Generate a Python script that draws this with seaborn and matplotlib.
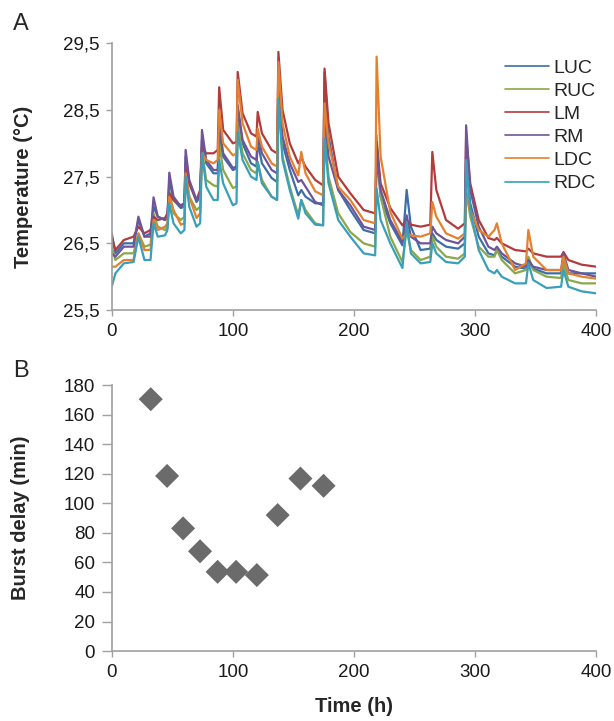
import matplotlib
matplotlib.use("Agg")
import matplotlib.pyplot as plt
import seaborn as sns
import pandas as pd

# --- panel A: temperature traces (key points) ---
hours = [0, 3, 10, 18, 22, 27, 32, 34.5, 38, 44,
         46, 47.5, 51, 57, 60, 61, 64, 70, 73, 74.5,
         78, 84, 87.5, 88.7, 92, 100, 103, 104, 108, 115,
         119.5, 120.5, 124, 132, 136.5, 137.6, 141, 147, 154, 156.5,
         160, 168, 174.5, 175.7, 179, 187, 197, 208, 217.5, 218.7,
         222, 230, 240, 243.5, 247, 255, 263, 264.7, 268, 276,
         286, 291.5, 292.6, 296, 303, 311, 316, 318, 322, 333,
         342, 344, 348, 359, 371, 373, 377, 388, 400]

luc = [26.65, 26.35, 26.5, 26.5, 26.85, 26.6, 26.65, 27.05, 26.9, 26.85,
       26.9, 27.43, 27.15, 27.03, 27.05, 27.8, 27.4, 27.12, 27.2, 28.05,
       27.7, 27.55, 27.55, 28.1, 27.8, 27.6, 27.62, 28.5, 28.0, 27.7,
       27.65, 28.02, 27.7, 27.48, 27.42, 28.87, 28.0, 27.6, 27.22, 27.3,
       27.2, 27.1, 27.1, 29.07, 28.1, 27.3, 27.0, 26.7, 26.65, 27.85,
       27.2, 26.8, 26.47, 27.3, 26.75, 26.4, 26.42, 26.65, 26.55, 26.45,
       26.42, 26.5, 27.7, 27.1, 26.6, 26.35, 26.32, 26.4, 26.3, 26.15,
       26.12, 26.22, 26.12, 26.05, 26.05, 26.25, 26.05, 26.05, 26.05]

ruc = [26.45, 26.25, 26.35, 26.35, 26.65, 26.45, 26.48, 26.95, 26.75, 26.7,
       26.75, 27.3, 26.95, 26.85, 26.9, 27.6, 27.2, 27.0, 27.05, 27.9,
       27.45, 27.37, 27.35, 28.0, 27.6, 27.33, 27.35, 28.32, 27.85, 27.6,
       27.55, 27.72, 27.45, 27.2, 27.15, 28.75, 27.8, 27.35, 26.92, 27.15,
       27.0, 26.8, 26.77, 28.2, 27.5, 26.95, 26.67, 26.5, 26.45, 28.12,
       27.2, 26.6, 26.22, 26.7, 26.4, 26.25, 26.3, 26.6, 26.45, 26.3,
       26.27, 26.35, 27.32, 26.9, 26.45, 26.3, 26.3, 26.4, 26.25, 26.05,
       26.1, 26.3, 26.1, 26.0, 25.98, 26.2, 25.95, 25.9, 25.9]

lm = [26.6, 26.4, 26.55, 26.6, 26.75, 26.65, 26.7, 26.9, 26.85, 26.88,
      26.95, 27.25, 27.15, 27.07, 27.1, 27.7, 27.4, 27.15, 27.3, 27.95,
      27.85, 27.85, 27.9, 28.84, 28.2, 28.0, 28.02, 29.07, 28.45, 28.15,
      28.1, 28.47, 28.15, 27.9, 27.85, 29.37, 28.5, 28.0, 27.7, 27.78,
      27.65, 27.45, 27.37, 29.12, 28.3, 27.5, 27.25, 27.0, 26.95, 28.02,
      27.4, 27.03, 26.77, 26.85, 26.78, 26.75, 26.78, 27.87, 27.3, 26.85,
      26.72, 26.8, 28.12, 27.4, 26.85, 26.58, 26.55, 26.58, 26.5, 26.4,
      26.38, 26.42, 26.35, 26.3, 26.3, 26.37, 26.25, 26.18, 26.15]

rm = [26.35, 26.3, 26.45, 26.45, 26.9, 26.6, 26.6, 27.19, 26.9, 26.85,
      26.9, 27.56, 27.2, 27.05, 27.1, 27.9, 27.45, 27.15, 27.25, 28.2,
      27.75, 27.6, 27.6, 28.3, 27.85, 27.63, 27.65, 28.57, 28.05, 27.8,
      27.75, 28.15, 27.85, 27.6, 27.55, 29.0, 28.1, 27.7, 27.42, 27.45,
      27.35, 27.12, 27.07, 28.45, 27.8, 27.3, 27.07, 26.75, 26.7, 27.97,
      27.3, 26.85, 26.52, 26.92, 26.6, 26.5, 26.5, 26.75, 26.65, 26.55,
      26.5, 26.6, 28.27, 27.3, 26.75, 26.45, 26.4, 26.45, 26.35, 26.2,
      26.15, 26.25, 26.15, 26.1, 26.1, 26.35, 26.1, 26.05, 26.0]

ldc = [26.15, 26.15, 26.25, 26.25, 26.65, 26.4, 26.4, 26.85, 26.7, 26.75,
       26.8, 27.2, 27.0, 26.78, 26.8, 27.55, 27.2, 26.88, 26.95, 27.85,
       27.75, 27.7, 27.75, 28.5, 28.0, 27.82, 27.85, 28.95, 28.3, 27.95,
       27.9, 28.22, 27.95, 27.7, 27.65, 29.22, 28.3, 27.8, 27.52, 27.87,
       27.55, 27.28, 27.22, 28.6, 28.0, 27.35, 27.15, 26.85, 26.8, 29.3,
       27.8, 26.97, 26.57, 26.65, 26.62, 26.6, 26.65, 27.12, 26.9, 26.65,
       26.57, 26.65, 27.2, 27.0, 26.7, 26.6, 26.7, 26.8, 26.5, 26.1,
       26.2, 26.7, 26.3, 26.1, 26.1, 26.3, 26.05, 26.0, 25.97]

rdc = [25.85, 26.05, 26.2, 26.22, 26.6, 26.25, 26.25, 26.8, 26.6, 26.62,
       26.7, 27.1, 26.8, 26.65, 26.7, 27.5, 27.05, 26.75, 26.8, 27.85,
       27.35, 27.15, 27.15, 27.75, 27.4, 27.07, 27.1, 28.17, 27.75, 27.5,
       27.45, 27.72, 27.4, 27.2, 27.15, 28.67, 27.75, 27.3, 26.87, 27.15,
       26.95, 26.78, 26.77, 28.07, 27.4, 26.85, 26.6, 26.35, 26.32, 27.32,
       26.85, 26.5, 26.13, 26.82, 26.35, 26.2, 26.22, 26.5, 26.35, 26.22,
       26.2, 26.3, 27.75, 27.0, 26.4, 26.1, 26.05, 26.1, 26.0, 25.9,
       25.9, 26.2, 25.95, 25.83, 25.85, 26.1, 25.85, 25.78, 25.75]

sensors = ["LUC", "RUC", "LM", "RM", "LDC", "RDC"]
colours = ["#3b6fa8", "#8aa84a", "#b23b3b", "#6f5597", "#e3812f", "#3a9fb8"]

# --- panel B: burst delay ---
burst_time = [32.2, 45.7, 58.9, 72.9, 87.4, 102.7, 119.8, 137.0, 155.8, 174.9]
burst_delay = [170.4, 118.5, 83, 67.5, 53.6, 53.6, 51.4, 92, 116.7, 111.8]

temps = pd.DataFrame({"Time": hours, "LUC": luc, "RUC": ruc, "LM": lm,
                      "RM": rm, "LDC": ldc, "RDC": rdc})
temps = temps.melt(id_vars="Time", var_name="Sensor", value_name="Temp")
bursts = pd.DataFrame({"Time": burst_time, "Delay": burst_delay})

sns.set_style("white")
plt.rcParams["font.family"] = ["Liberation Sans", "DejaVu Sans"]

fig = plt.figure(figsize=(6.14, 7.21), dpi=100)
ax_a = fig.add_axes([0.182, 0.570, 0.789, 0.370])
ax_b = fig.add_axes([0.182, 0.097, 0.789, 0.369])

sns.lineplot(data=temps, x="Time", y="Temp", hue="Sensor", hue_order=sensors,
             palette=dict(zip(sensors, colours)), linewidth=1.6, ax=ax_a)
ax_a.set_xlim(0, 400)
ax_a.set_ylim(25.5, 29.5)
ax_a.set_yticks([25.5, 26.5, 27.5, 28.5, 29.5])
ax_a.set_yticklabels(["25,5", "26,5", "27,5", "28,5", "29,5"])
ax_a.set_xticks([0, 100, 200, 300, 400])
ax_a.set_xlabel("")
ax_a.set_ylabel("Temperature (°C)", fontsize=14.5, fontweight="bold")
ax_a.yaxis.set_label_coords(-0.163, 0.46)
leg = ax_a.legend(frameon=False, loc="upper right", bbox_to_anchor=(1.035, 1.005),
                  fontsize=14, handlelength=2.25, labelspacing=0.28, handletextpad=0.25)
for line in leg.get_lines():
    line.set_linewidth(1.2)

sns.scatterplot(data=bursts, x="Time", y="Delay", marker="D", s=150,
                color="#6b6b6b", edgecolor="none", ax=ax_b)
ax_b.set_xlim(0, 400)
ax_b.set_ylim(0, 180)
ax_b.set_yticks(range(0, 181, 20))
ax_b.set_xticks([0, 100, 200, 300, 400])
ax_b.set_xlabel("Time (h)", fontsize=14.5, fontweight="bold")
ax_b.xaxis.set_label_coords(0.5, -0.173)
ax_b.set_ylabel("Burst delay (min)", fontsize=14.5, fontweight="bold")
ax_b.yaxis.set_label_coords(-0.169, 0.5)

for ax in (ax_a, ax_b):
    sns.despine(ax=ax)
    for side in ("left", "bottom"):
        ax.spines[side].set_color("#a0a0a0")
        ax.spines[side].set_linewidth(1.2)
    ax.tick_params(axis="both", labelsize=13.5, length=4, width=1.0,
                   color="#a0a0a0", labelcolor="#1a1a1a", direction="out",
                   left=True, bottom=True, pad=5)
ax_b.tick_params(axis="y", length=7)

fig.text(0.021, 0.958, "A", fontsize=17)
fig.text(0.021, 0.477, "B", fontsize=17)

fig.savefig("out.png", dpi=100)
